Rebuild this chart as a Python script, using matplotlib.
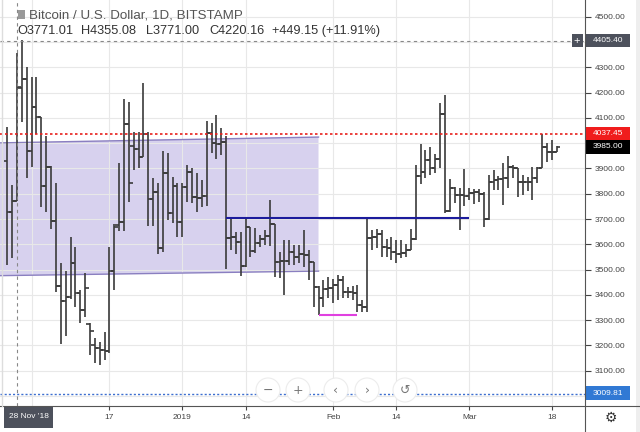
import matplotlib
matplotlib.use('Agg')
import matplotlib.pyplot as plt
import matplotlib.dates as mdates
from matplotlib.patches import Rectangle, Ellipse, Polygon
from matplotlib.lines import Line2D
from matplotlib.transforms import blended_transform_factory
import pandas as pd

# daily OHLC, 26 Nov 2018 .. 19 Mar 2019
opens = [3931, 3727, 3771.01, 4220, 4253, 3970, 4142, 4102, 3832, 3907,
         3692, 3435, 3376, 3393, 3527, 3406, 3340, 3285, 3200, 3191,
         3182, 3180, 3495, 3675, 3690, 4076, 3990, 3978, 3944, 4036,
         3778, 3808, 3584, 3883, 3725, 3830, 3690, 3825, 3887, 3788,
         3782, 3792, 4039, 4002, 3997, 4006, 3624, 3630, 3610, 3516,
         3670, 3574, 3604, 3620, 3633, 3680, 3531, 3533, 3533, 3571,
         3551, 3560, 3558, 3531, 3430, 3387, 3422, 3426, 3439, 3459,
         3413, 3413, 3409, 3360, 3353, 3624, 3628, 3640, 3588, 3584,
         3571, 3562, 3564, 3577, 3620, 3870, 3887, 3933, 3901, 3937,
         4115, 3733, 3822, 3795, 3795, 3791, 3802, 3808, 3800, 3699,
         3845, 3855, 3857, 3861, 3905, 3901, 3848, 3848, 3848, 3861,
         3901, 3986, 3966, 3966]
highs = [4065, 3835, 4355.08, 4408, 4302, 4263, 4263, 4102, 4028, 3910,
         3841, 3527, 3496, 3630, 3588, 3419, 3485, 3290, 3228, 3215,
         3255, 3588, 3680, 3923, 4173, 4163, 4045, 4045, 4237, 4045,
         3861, 3844, 3970, 3960, 3867, 3841, 3841, 3914, 3901, 3882,
         3854, 4089, 4078, 4111, 4059, 4030, 3699, 3650, 3650, 3709,
         3670, 3663, 3637, 3657, 3775, 3680, 3571, 3617, 3617, 3597,
         3597, 3657, 3577, 3531, 3435, 3459, 3470, 3462, 3479, 3475,
         3432, 3435, 3439, 3380, 3709, 3657, 3659, 3657, 3620, 3630,
         3617, 3617, 3601, 3659, 3914, 3997, 3973, 3986, 3957, 4158,
         4190, 3857, 3825, 3822, 3897, 3822, 3818, 3818, 3808, 3874,
         3894, 3870, 3923, 3949, 3914, 3901, 3874, 3865, 3905, 3905,
         4037.45, 3999, 4012, 3989]
lows = [3518, 3545, 3771.00, 4085, 3861, 3905, 4036, 3746, 3729, 3659,
        3413, 3206, 3238, 3383, 3353, 3290, 3314, 3162, 3130, 3123,
        3143, 3170, 3419, 3654, 3654, 3769, 3894, 3901, 3944, 3673,
        3673, 3562, 3571, 3696, 3683, 3630, 3630, 3769, 3763, 3729,
        3749, 3751, 3960, 3936, 3953, 3501, 3577, 3560, 3475, 3511,
        3551, 3564, 3591, 3597, 3595, 3472, 3466, 3400, 3518, 3518,
        3525, 3511, 3459, 3353, 3320, 3351, 3387, 3367, 3380, 3387,
        3387, 3380, 3333, 3333, 3333, 3577, 3584, 3551, 3551, 3538,
        3527, 3545, 3549, 3577, 3617, 3838, 3861, 3874, 3881, 3901,
        3723, 3729, 3763, 3657, 3751, 3775, 3759, 3769, 3670, 3696,
        3815, 3815, 3755, 3822, 3861, 3788, 3795, 3812, 3775, 3841,
        3901, 3927, 3933, 3966]
closes = [3727, 3771, 4220.16, 4253, 3970, 4142, 4102, 3832, 3907, 3692,
          3435, 3376, 3393, 3527, 3406, 3340, 3429, 3258, 3191, 3182,
          3180, 3495, 3670, 3690, 4076, 3841, 3978, 3944, 4036, 3778,
          3808, 3584, 3883, 3725, 3830, 3690, 3825, 3887, 3788, 3782,
          3792, 4039, 4002, 3997, 4006, 3624, 3630, 3610, 3516, 3670,
          3574, 3604, 3620, 3633, 3680, 3531, 3533, 3533, 3571, 3551,
          3560, 3558, 3531, 3430, 3387, 3422, 3426, 3439, 3459, 3413,
          3413, 3409, 3360, 3353, 3624, 3628, 3640, 3588, 3584, 3571,
          3562, 3564, 3577, 3620, 3870, 3887, 3933, 3901, 3937, 4115,
          3733, 3822, 3795, 3795, 3791, 3802, 3808, 3800, 3699, 3845,
          3855, 3857, 3861, 3905, 3901, 3848, 3848, 3848, 3861, 3901,
          3986, 3966, 3966, 3985.00]
dates = pd.date_range('2018-11-26', periods=len(closes), freq='D')

# the Dec tick is hidden under the crosshair date tag
tick_dates = ['2018-12-01', '2018-12-17', '2019-01-01', '2019-01-14',
              '2019-02-01', '2019-02-14', '2019-03-01', '2019-03-18']
tick_labels = ['', '17', '2019', '14', 'Feb', '14', 'Mar', '18']
price_ticks = list(range(3000, 4600, 100))

# drawings
channel_dates = ['2018-11-24 12:00', '2019-01-29 00:00']
channel_top = [4001, 4024]
channel_bottom = [3476, 3494]
resist_dates = ['2019-01-10', '2019-03-01']
resist_level = 3703
support_dates = ['2019-01-29', '2019-02-06']
support_level = 3319
cross_date = '2018-11-28'
cross_price = 4405.40
high_price = 4037.45
last_price = 3985.00
low_price = 3009.81

plt.rcParams['font.family'] = ['Liberation Sans', 'DejaVu Sans']


def dnum(ds):
    return mdates.date2num(pd.to_datetime(ds, format='ISO8601'))


fig = plt.figure(figsize=(6.4, 4.32), dpi=100)
ax = fig.add_axes([0, 26 / 432, 585 / 640, 406 / 432])

x = mdates.date2num(dates)
bar_c = '#3a3a3a'
ax.vlines(x, lows, highs, color=bar_c, lw=1.2, zorder=3)
ax.hlines(opens, x - 0.75, x, color=bar_c, lw=1.2, zorder=3)
ax.hlines(closes, x, x + 0.75, color=bar_c, lw=1.2, zorder=3)

# parallel channel
cx = dnum(channel_dates)
poly = Polygon([(cx[0], channel_bottom[0]), (cx[0], channel_top[0]),
                (cx[1], channel_top[1]), (cx[1], channel_bottom[1])],
               closed=True, fc='#7b68c8', alpha=0.3, ec='none', zorder=1)
ax.add_patch(poly)
ax.plot(cx, channel_top, color='#8a7fc0', lw=1, zorder=2)
ax.plot(cx, channel_bottom, color='#8a7fc0', lw=1, zorder=2)

rx = dnum(resist_dates)
ax.hlines(resist_level, rx[0], rx[1], color='#1c1c9c', lw=1.5, zorder=4)
sx = dnum(support_dates)
ax.hlines(support_level, sx[0], sx[1], color='#e040e0', lw=1.5, zorder=4)

ax.axhline(high_price, color='#e8201c', lw=1.2, ls=(0, (1.5, 1.5)), zorder=4)
ax.axhline(low_price, color='#3d6fd0', lw=1, ls=(0, (1.5, 1.5)), zorder=4)
ax.axhline(cross_price, color='#888888', lw=0.8, ls=(0, (3, 3)), zorder=4)
base = mdates.date2num(pd.Timestamp(cross_date))
ax.axvline(base, color='#888888', lw=0.8, ls=(0, (3, 3)), zorder=4)

ax.set_xlim(base - 3.5, base + 116.8)
ax.set_ylim(2960.6, 4566)

tags = [cross_price, high_price, last_price, low_price]
ax.set_xticks(dnum(tick_dates))
ax.set_xticklabels(tick_labels)
ax.set_yticks(price_ticks)
ax.set_yticklabels(['' if min(abs(p - t) for t in tags) < 45 else f'{p:.2f}'
                    for p in price_ticks])
ax.yaxis.tick_right()
ax.tick_params(axis='y', length=4, pad=3, labelsize=6, colors='#444444')
ax.tick_params(axis='x', length=3, pad=3, labelsize=6, colors='#444444')
ax.grid(True, color='#e8e8e8', lw=0.8)
for s in ax.spines.values():
    s.set_visible(False)

fig.add_artist(Line2D([0, 1], [26 / 432, 26 / 432], color='#555555', lw=0.8))
fig.add_artist(Line2D([585 / 640, 585 / 640], [0, 1], color='#555555', lw=0.8))
fig.add_artist(Rectangle((636 / 640, 0), 4 / 640, 1, fc='#eeeeee', ec='none'))
fig.add_artist(Line2D([2 / 640, 2 / 640], [26 / 432, 1], color='#dddddd', lw=1))

# price tags on the right scale
trans = blended_transform_factory(ax.transAxes, ax.transData)


def price_tag(price, color):
    ax.add_patch(Rectangle((1.002, price - 27), 0.0745, 55, transform=trans,
                           fc=color, ec='none', clip_on=False, zorder=6))
    ax.text(1.039, price, f'{price:.2f}', transform=trans, ha='center',
            va='center', color='white', fontsize=6, zorder=7, clip_on=False)


price_tag(cross_price, '#4d515c')
ax.add_patch(Rectangle((0.977, cross_price - 27), 0.019, 55, transform=trans,
                       fc='#4d515c', ec='none', clip_on=False, zorder=6))
ax.text(0.9865, cross_price, '+', transform=trans, ha='center', va='center',
        color='white', fontsize=8, zorder=7)
price_tag(high_price, '#f01c1c')
price_tag(last_price, '#000000')
price_tag(low_price, '#3179d4')

# crosshair date tag
fig.add_artist(Rectangle((4 / 640, 4 / 432), 49 / 640, 22 / 432,
                         fc='#4d515c', ec='none'))
fig.text(28.5 / 640, 1 - 417 / 432, "28 Nov '18", ha='center', va='center',
         color='white', fontsize=6)
fig.text(611 / 640, 1 - 418 / 432, '\u2699', ha='center', va='center',
         color='#333333', fontsize=10, family='DejaVu Sans')

# header
fig.add_artist(Rectangle((18 / 640, 1 - 19 / 432), 7 / 640, 9 / 432,
                         fc='#999999', ec='none'))
fig.text(29 / 640, 1 - 15 / 432, 'Bitcoin / U.S. Dollar, 1D, BITSTAMP',
         ha='left', va='center', color='#555555', fontsize=9.6)
for xp, s in [(17, 'O3771.01'), (81, 'H4355.08'), (146, 'L3771.00'),
              (209, 'C4220.16'), (272, '+449.15 (+11.91%)')]:
    fig.text(xp / 640, 1 - 31 / 432, s, ha='left', va='center',
             color='#333333', fontsize=9.2)

# navigation buttons
for xp, sym in [(268, '\u2212'), (298, '+'), (336, '\u2039'),
                (367, '\u203a'), (405, '\u21ba')]:
    fig.add_artist(Ellipse((xp / 640, 1 - 390 / 432), 24 / 640, 24 / 432,
                           fc='white', ec='#ececec', lw=0.8))
    fig.text(xp / 640, 1 - 390 / 432, sym, ha='center', va='center',
             color='#777777', fontsize=9, family='DejaVu Sans')

fig.savefig('out.png', dpi=100)
